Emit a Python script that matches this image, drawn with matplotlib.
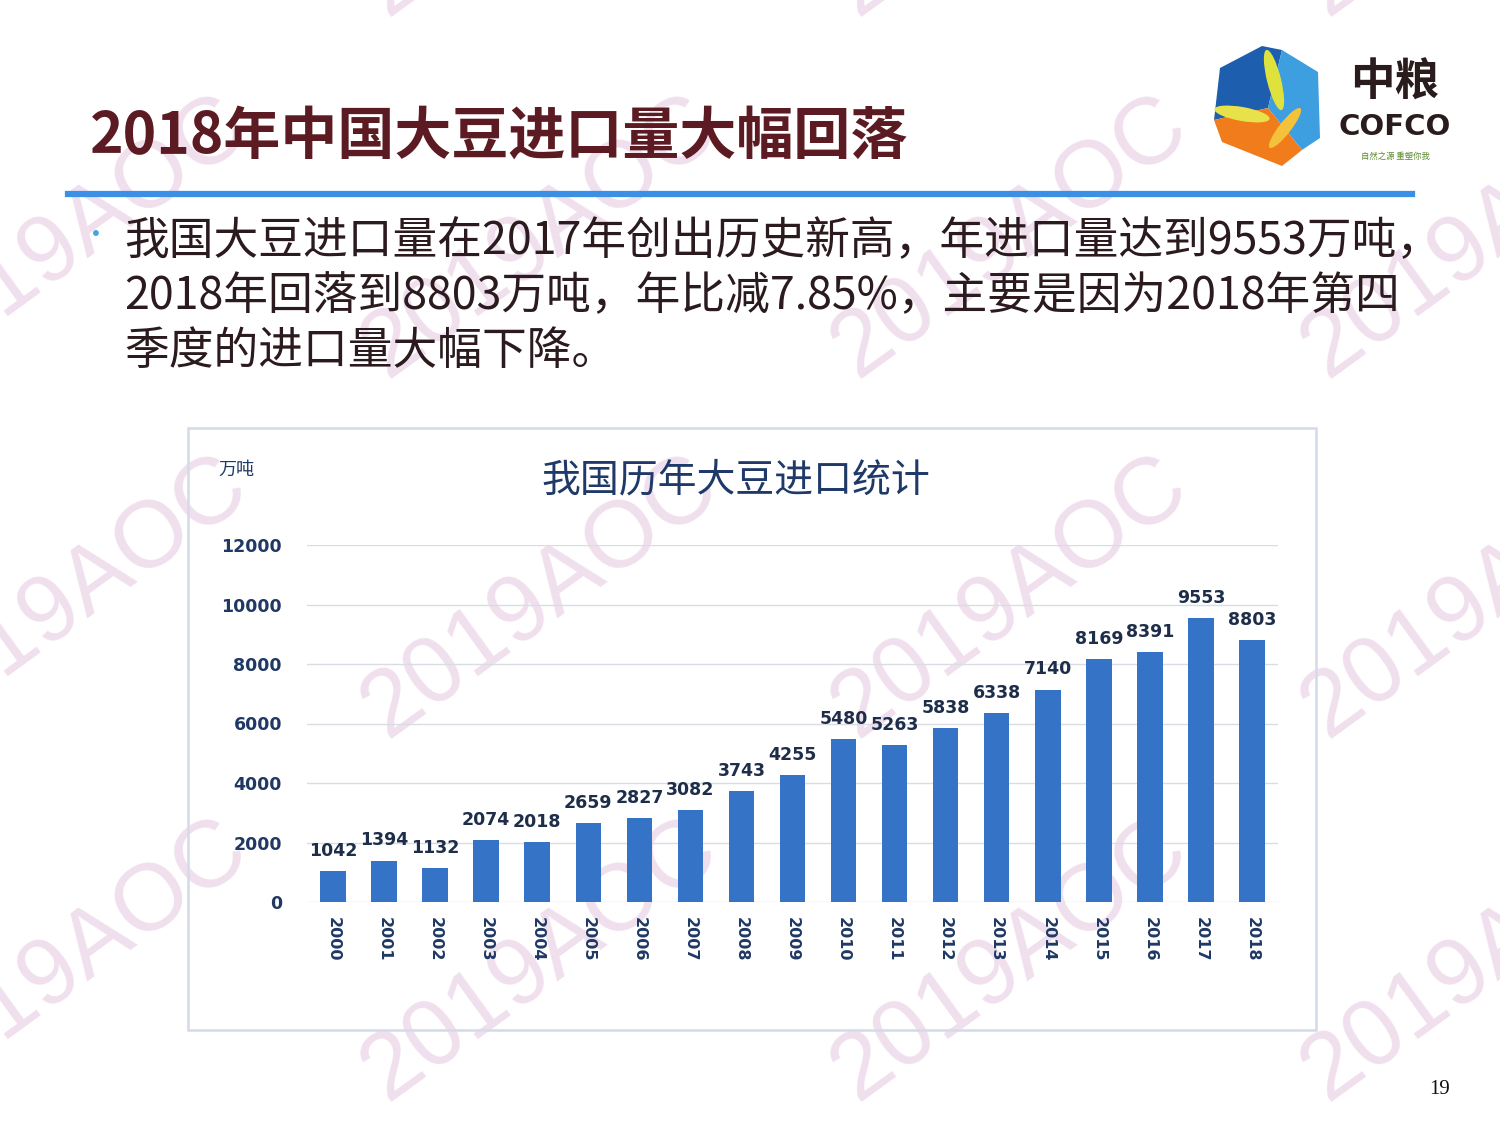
import matplotlib
matplotlib.use("Agg")
import matplotlib.pyplot as plt
from matplotlib.patches import Polygon, Rectangle, Ellipse
from matplotlib.lines import Line2D

plt.rcParams['font.family'] = ['Noto Sans CJK SC', 'DejaVu Sans']

# Soybean imports by year (10k tonnes)
years = ['2000', '2001', '2002', '2003', '2004', '2005', '2006', '2007', '2008', '2009',
         '2010', '2011', '2012', '2013', '2014', '2015', '2016', '2017', '2018']
imports = [1042, 1394, 1132, 2074, 2018, 2659, 2827, 3082, 3743, 4255,
           5480, 5263, 5838, 6338, 7140, 8169, 8391, 9553, 8803]
y_ticks = [0, 2000, 4000, 6000, 8000, 10000, 12000]

slide_title = '2018年中国大豆进口量大幅回落'
bullet_lines = ['我国大豆进口量在2017年创出历史新高，年进口量达到9553万吨，',
                '2018年回落到8803万吨，年比减7.85%，主要是因为2018年第四',
                '季度的进口量大幅下降。']
chart_title = '我国历年大豆进口统计'
unit_label = '万吨'
watermark = '2019AOC'

W, H = 1500, 1125
fig = plt.figure(figsize=(W / 100, H / 100), dpi=100, facecolor='white')

# Background layer in pixel coordinates (origin top-left)
bg = fig.add_axes([0, 0, 1, 1], zorder=0)
bg.set_xlim(0, W)
bg.set_ylim(H, 0)
bg.axis('off')

# Repeated watermark
for cy in [-125, 237, 597, 960]:
    for cx in [70, 540, 1010, 1480]:
        bg.text(cx, cy, watermark, fontsize=68, family='Liberation Sans',
                color='#f0e0ee', rotation=36, ha='center',
                va='center', rotation_mode='anchor', zorder=0)

# Slide heading and rule
bg.text(90, 137, slide_title, fontsize=41, fontweight='bold', color='#5c1a22',
        ha='left', va='center', zorder=3)
bg.add_line(Line2D([68, 1412], [194, 194], color='#3a8fe6', lw=4.5, zorder=3))

# Bullet paragraph
bg.text(96, 236, '•', fontsize=20, color='#4aa3df', ha='center', va='center', zorder=3)
for i, line in enumerate(bullet_lines):
    bg.text(124, 241 + i * 55, line, fontsize=32.2, color='#2b1a1e',
            ha='left', va='center', zorder=3)

# Logo: cube with leaves
bg.add_patch(Polygon([(1220, 68), (1262, 46), (1282, 50), (1268, 108), (1214, 120)],
                     closed=True, facecolor='#1d5fae', edgecolor='none', zorder=3))
bg.add_patch(Polygon([(1282, 50), (1318, 72), (1320, 138), (1302, 150), (1268, 108)],
                     closed=True, facecolor='#3d9ee0', edgecolor='none', zorder=3))
bg.add_patch(Polygon([(1214, 120), (1268, 108), (1302, 150), (1282, 166), (1222, 142)],
                     closed=True, facecolor='#f07c1c', edgecolor='none', zorder=3))
bg.add_patch(Ellipse((1274, 80), 14, 62, angle=-14, facecolor='#dfe23c',
                     edgecolor='none', zorder=4))
bg.add_patch(Ellipse((1242, 114), 56, 14, angle=10, facecolor='#e8e24a',
                     edgecolor='none', zorder=4))
bg.add_patch(Ellipse((1285, 128), 12, 50, angle=38, facecolor='#f3c23a',
                     edgecolor='none', zorder=4))
bg.text(1395, 83, '中粮', fontsize=32, fontweight='bold', color='#2a1c1c',
        ha='center', va='center', zorder=3)
bg.text(1395, 127, 'COFCO', fontsize=21, fontweight='bold', family='DejaVu Sans',
        color='#2a1c1c', ha='center', va='center', zorder=3)
bg.text(1395, 156, '自然之源 重塑你我', fontsize=6, color='#5a8a30',
        ha='center', va='center', zorder=3)

# Page number
bg.text(1440, 1090, '19', fontsize=15, family='Liberation Serif', color='#111111',
        ha='center', va='center', zorder=3)

# Chart frame
bg.add_patch(Rectangle((188, 428), 1128, 602, facecolor='none',
                       edgecolor='#d3dbe8', lw=1.8, zorder=2))
bg.text(736, 480, chart_title, fontsize=28, color='#1f3a68', ha='center',
        va='center', zorder=3)
bg.text(218, 470, unit_label, fontsize=13, color='#1f3864', ha='left',
        va='center', zorder=3)

# Bar chart
x0, x1 = 307 / W, 1278 / W
yb, yt = (H - 902) / H, (H - 545) / H
ax = fig.add_axes([x0, yb, x1 - x0, yt - yb], zorder=2)
ax.patch.set_alpha(0)
positions = list(range(len(years)))
bars = ax.bar(positions, imports, width=0.5, color='#3473c6', zorder=3)
ax.set_xlim(-0.51, len(years) - 0.49)
ax.set_ylim(0, 12000)
ax.set_yticks(y_ticks)
ax.set_yticklabels([str(v) for v in y_ticks], family='DejaVu Sans',
                   fontweight='bold', fontsize=12.5, color='#1f3864')
ax.set_xticks(positions)
ax.set_xticklabels(years, rotation=270, family='DejaVu Sans', fontweight='bold',
                   fontsize=11.5, color='#1f3864', ha='center', va='top')
ax.tick_params(axis='both', length=0)
ax.tick_params(axis='y', pad=18)
ax.tick_params(axis='x', pad=11)
ax.yaxis.grid(True, color='#d9dde3', lw=1, zorder=0)
for s in ax.spines.values():
    s.set_visible(False)

for p, v in zip(positions, imports):
    ax.annotate(str(v), (p, v), xytext=(0, 8), textcoords='offset points',
                ha='center', va='bottom', family='DejaVu Sans', fontweight='bold',
                fontsize=12.5, color='#1e2e4a', zorder=4)

fig.savefig('out.png', dpi=100, facecolor='white')
